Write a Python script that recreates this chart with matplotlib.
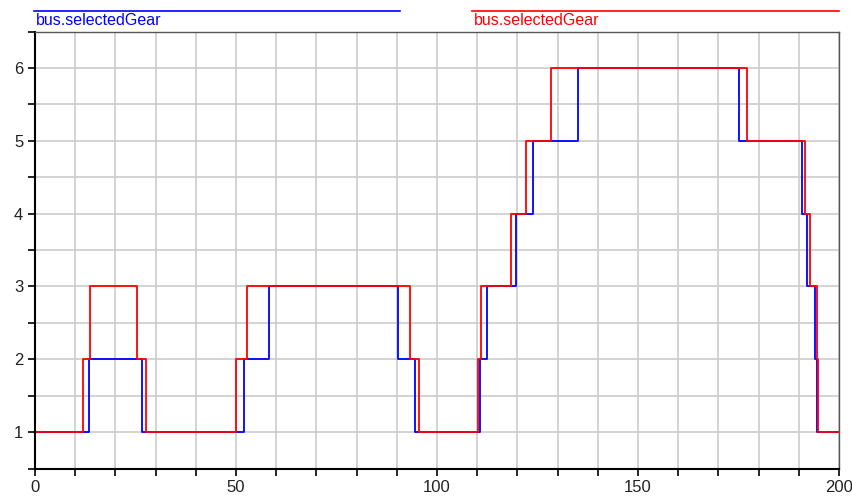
import numpy as np
import matplotlib
matplotlib.use("Agg")
import matplotlib.pyplot as plt
from matplotlib.ticker import MultipleLocator

plt.rcParams['font.family'] = ['Liberation Sans', 'DejaVu Sans']

# Gear-shift instants (s) and the gear selected from that instant on
blue_t = [0, 13.5, 26.7, 52.1, 58.2, 90.4, 94.6, 110.8, 112.4, 119.6, 123.9,
          135.1, 175.2, 190.7, 192.0, 194.1, 194.5, 200]
blue_gear = [1, 2, 1, 2, 3, 2, 1, 2, 3, 4, 5, 6, 5, 4, 3, 2, 1, 1]

red_t = [0, 11.9, 13.8, 25.4, 27.6, 50.0, 52.7, 93.4, 95.4, 110.2, 110.9,
         118.4, 122.1, 128.3, 177.0, 191.5, 192.9, 194.6, 194.9, 200]
red_gear = [1, 2, 3, 2, 1, 2, 3, 2, 1, 2, 3, 4, 5, 6, 5, 4, 3, 2, 1, 1]

series_label = "bus.selectedGear"

fig = plt.figure(figsize=(8.52, 4.97), dpi=100)
ax = fig.add_axes([35 / 852, 1 - 468.5 / 497, 804 / 852, 437 / 497])

ax.step(blue_t, blue_gear, where='post', color='#0000ff', lw=1.3)
ax.step(red_t, red_gear, where='post', color='#ff0000', lw=1.3)

ax.set_xlim(0, 200)
ax.set_ylim(0.5, 6.5)

ax.xaxis.set_major_locator(MultipleLocator(50))
ax.xaxis.set_minor_locator(MultipleLocator(10))
ax.yaxis.set_major_locator(MultipleLocator(1))
ax.yaxis.set_minor_locator(MultipleLocator(0.5))
ax.grid(which='both', color='#cccccc', lw=1.2)
ax.set_axisbelow(True)

ax.tick_params(which='both', direction='out', length=5, width=1.2, color='black',
               labelsize=12, labelcolor='#222222')
ax.tick_params(axis='x', pad=3)

for side in ('left', 'bottom'):
    ax.spines[side].set_color('black')
    ax.spines[side].set_linewidth(1.5)
for side in ('top', 'right'):
    ax.spines[side].set_color('#555555')
    ax.spines[side].set_linewidth(1.0)

# Legend: a coloured rule with the variable name underneath, one per series
for x0, x1, col in [(34, 400, '#0000ff'), (472, 839, '#ff0000')]:
    fig.add_artist(plt.Line2D([x0 / 852, x1 / 852], [1 - 10.7 / 497] * 2,
                              color=col, lw=1.2))
    fig.text((x0 + 2) / 852, 1 - 13 / 497, series_label, color=col,
             fontsize=11.5, ha='left', va='top')

fig.savefig('out.png', dpi=100)
